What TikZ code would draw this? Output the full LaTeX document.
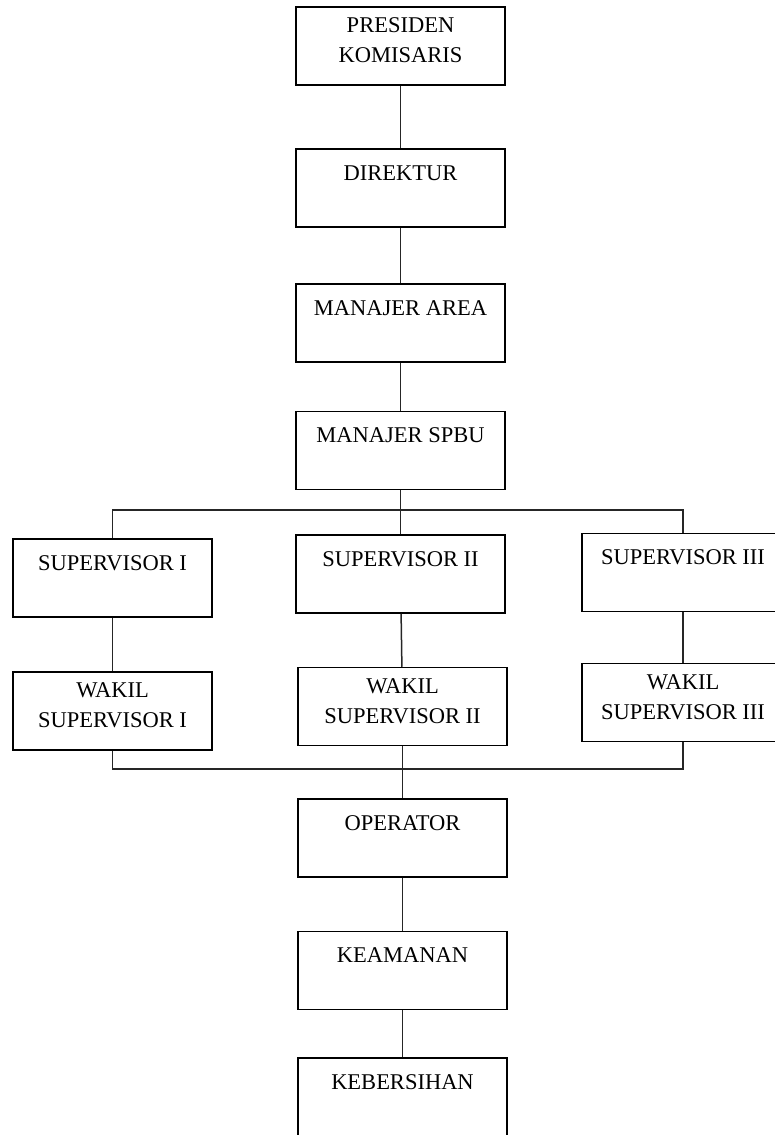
\documentclass[tikz,border=0pt]{standalone}
\usepackage{fontspec}
\setmainfont{Liberation Serif}
\tikzstyle{jabatan} = [rectangle, draw=black, line width=1.5pt, minimum width=209pt, minimum height=78pt, align=center, inner sep=0pt, font=\fontsize{22.5}{30}\selectfont]
\tikzstyle{duabaris} = [text depth=11pt]
\tikzstyle{garis} = [line width=1.5pt, draw=black!85]

\begin{document}
\begin{tikzpicture}[x=1pt, y=-1pt]
\useasboundingbox (0,0) rectangle (775,1135);
\clip (0,0) rectangle (775,1135);

% Pimpinan
\node (presiden) [jabatan, duabaris] at (400.5,46) {PRESIDEN\\KOMISARIS};
\node (direktur) [jabatan] at (400.5,188) {DIREKTUR\\~};
\node (area) [jabatan] at (400.5,323) {MANAJER AREA\\~};
\node (spbu) [jabatan] at (400.5,450.5) {MANAJER SPBU\\~};

% Supervisor dan wakil
\node (sup1) [jabatan, minimum width=199pt] at (112.5,578) {SUPERVISOR I\\~};
\node (sup2) [jabatan] at (400.5,574) {SUPERVISOR II\\~};
\node (sup3) [jabatan, minimum width=202pt] at (683,572.5) {SUPERVISOR III\\~};
\node (wakil1) [jabatan, duabaris, minimum width=199pt] at (112.5,711) {WAKIL\\SUPERVISOR I};
\node (wakil2) [jabatan, duabaris] at (402.5,706.5) {WAKIL\\SUPERVISOR II};
\node (wakil3) [jabatan, duabaris, minimum width=202pt] at (683,702.5) {WAKIL\\SUPERVISOR III};

% Pelaksana
\node (operator) [jabatan] at (402.5,838) {OPERATOR\\~};
\node (keamanan) [jabatan] at (402.5,970.5) {KEAMANAN\\~};
\node (kebersihan) [jabatan] at (402.5,1097) {KEBERSIHAN\\~};

\coordinate (cabang) at (400.5,510);
\coordinate (gabung) at (402.5,769);

% Garis
\draw [garis] (presiden) -- (direktur);
\draw [garis] (direktur) -- (area);
\draw [garis] (area) -- (spbu);
\draw [garis] (spbu.south) -- (cabang);
\draw [garis] (sup1.north) |- (cabang) -| (sup3.north);
\draw [garis] (cabang) -- (sup2.north);
\draw [garis] (sup1) -- (wakil1);
\draw [garis] (sup2) -- (wakil2);
\draw [garis] (sup3) -- (wakil3);
\draw [garis] (wakil1.south) |- (gabung) -| (wakil3.south);
\draw [garis] (wakil2.south) -- (operator.north);
\draw [garis] (operator) -- (keamanan);
\draw [garis] (keamanan) -- (kebersihan);

\end{tikzpicture}
\end{document}
